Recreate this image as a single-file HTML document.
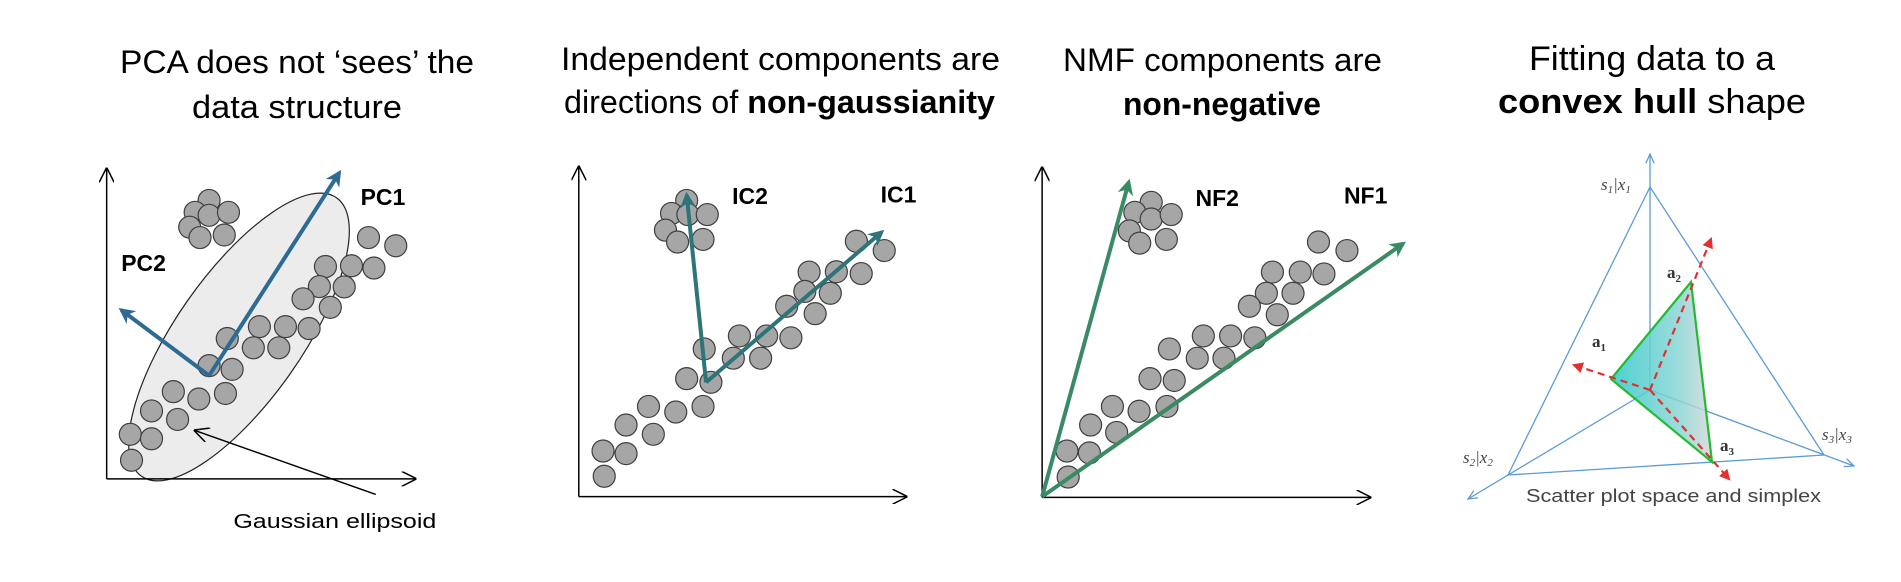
<!DOCTYPE html>
<html><head><meta charset="utf-8"><style>
html,body{margin:0;padding:0;background:#fff;}
svg{display:block;font-family:"Liberation Sans",sans-serif;}
</style></head><body>
<svg id="fig" width="1901" height="582" viewBox="0 0 1901 582" xmlns="http://www.w3.org/2000/svg">
<defs>
<marker id="mBlue" viewBox="0 0 10 10" refX="8" refY="5" markerWidth="4" markerHeight="4" orient="auto"><path d="M0,0 L10,5 L0,10 L3,5 z" fill="#2d6a94"/></marker>
<marker id="mTeal" viewBox="0 0 10 10" refX="8" refY="5" markerWidth="4" markerHeight="4" orient="auto"><path d="M0,0 L10,5 L0,10 L3,5 z" fill="#2e7479"/></marker>
<marker id="mGreen" viewBox="0 0 10 10" refX="8" refY="5" markerWidth="4" markerHeight="4" orient="auto"><path d="M0,0 L10,5 L0,10 L3,5 z" fill="#3a8a63"/></marker>
<marker id="mBlack" viewBox="0 0 10 10" refX="9" refY="5" markerWidth="10" markerHeight="10" orient="auto"><path d="M0,0 L10,5 L0,10" fill="none" stroke="#000" stroke-width="1"/></marker>
<marker id="mRed" viewBox="0 0 10 10" refX="8" refY="5" markerWidth="5" markerHeight="5" orient="auto"><path d="M0,0 L10,5 L0,10 z" fill="#e03030"/></marker>
<marker id="mSky" viewBox="0 0 10 10" refX="9" refY="5" markerWidth="8" markerHeight="8" orient="auto"><path d="M0,1 L9,5 L0,9" fill="none" stroke="#5b9bd5" stroke-width="1.2"/></marker>
<linearGradient id="hullGrad" x1="0" y1="0" x2="1" y2="0"><stop offset="0" stop-color="#2ec8c8"/><stop offset="0.7" stop-color="#8fd6d6"/><stop offset="1" stop-color="#d8d8d8"/></linearGradient>
</defs>

<text x="297" y="73" font-size="32" text-anchor="middle" textLength="354" lengthAdjust="spacingAndGlyphs">PCA does not ‘sees’  the</text>
<text x="297" y="118" font-size="32" text-anchor="middle" textLength="210" lengthAdjust="spacingAndGlyphs">data structure</text>
<text x="561" y="70" font-size="32" textLength="439" lengthAdjust="spacingAndGlyphs">Independent components are</text>
<text x="564" y="113" font-size="32" textLength="431" lengthAdjust="spacingAndGlyphs">directions of <tspan font-weight="bold">non-gaussianity</tspan></text>
<text x="1063" y="71" font-size="32" textLength="319" lengthAdjust="spacingAndGlyphs">NMF components are</text>
<text x="1123" y="115" font-size="32" font-weight="bold" textLength="198" lengthAdjust="spacingAndGlyphs">non-negative</text>
<text x="1529" y="70" font-size="34" textLength="246" lengthAdjust="spacingAndGlyphs">Fitting data to a</text>
<text x="1498" y="113" font-size="34" textLength="308" lengthAdjust="spacingAndGlyphs"><tspan font-weight="bold">convex hull</tspan> shape</text>

<g id="p1"></g>
<g id="p2"></g>
<g id="p3"></g>
<g id="p4"></g>
</svg>
<script>
const pcaX=[345,322,345,377,313,330,370,608,653,537,580,617,527,568,500,545,428,471,510,375,418,460,345,383,286,328,372,250,293,215,250,217];
const pcaY=[540,572,580,572,612,640,633,640,662,718,716,722,772,773,805,828,880,880,885,912,937,937,985,995,1055,1075,1060,1107,1130,1170,1182,1240];
const icaX=[1133,1108,1135,1167,1098,1118,1160,1413,1459,1335,1380,1421,1328,1370,1298,1345,1220,1265,1305,1162,1210,1255,1133,1173,1070,1115,1160,1033,1078,995,1033,997];
const icaY=[540,575,578,578,620,652,645,650,675,733,732,737,785,790,825,845,905,905,910,940,965,965,1020,1030,1095,1110,1095,1145,1170,1215,1222,1283];
const nmfX=[332,305,332,365,296,313,357,608,655,532,578,617,522,566,494,540,418,463,503,362,408,452,330,370,268,312,358,232,275,193,230,195];
const nmfY=[545,572,590,578,622,655,645,652,675,733,733,738,790,790,825,848,905,905,910,940,965,965,1020,1025,1095,1108,1095,1145,1165,1215,1220,1285];

const NS='http://www.w3.org/2000/svg';
function sx(off){return v=>off+v/1.65;}
function sy(v){return v/2.694;}
function mk(parent,tag,attrs){const e=document.createElementNS(NS,tag);for(const k in attrs)e.setAttribute(k,attrs[k]);parent.appendChild(e);return e;}

function axes(g,X,x0,yTop,yBot,xEnd){
  const ya=mk(g,'line',{x1:X(x0),y1:sy(yBot),x2:X(x0),y2:sy(yTop),stroke:'#000','stroke-width':1.5,'marker-end':'url(#mBlack)'});
  
  
  const xa=mk(g,'line',{x1:X(x0),y1:sy(yBot),x2:X(xEnd),y2:sy(yBot),stroke:'#000','stroke-width':1.5,'marker-end':'url(#mBlack)'});
  
  
}
function points(g,X,xs,ys){
  for(let i=0;i<xs.length;i++){
    const c=mk(g,'circle',{cx:X(xs[i]),cy:sy(ys[i]),r:11,fill:'#a6a6a6',stroke:'#3f3f3f','stroke-width':1.2});
    
    
  }
}
function arrow(g,X,ox,oy,tx,ty,color,marker,name){
  const l=mk(g,'line',{x1:X(ox),y1:sy(oy),x2:X(tx),y2:sy(ty),stroke:color,'stroke-width':4,'marker-end':'url(#'+marker+')'});
  
  
}
function label(g,x,y,txt,name,size,bold){
  const t=mk(g,'text',{x:x,y:y,'font-size':size,'font-weight':bold?'bold':'normal'});
  t.textContent=txt;
  
  
  return t;
}

(function(){
  const g=document.getElementById('p1');const X=sx(0);
  const el=mk(g,'ellipse',{cx:239,cy:337,rx:170,ry:63,fill:'#ececec',stroke:'#222','stroke-width':1.2,transform:'rotate(-55 239 337)'});
  
  
  axes(g,X,176,455,1290,685);
  points(g,X,pcaX,pcaY);
  arrow(g,X,345,1012,560,465,'#2d6a94','mBlue','pc1-arrow');
  arrow(g,X,345,1012,200,835,'#2d6a94','mBlue','pc2-arrow');
  label(g,X(595),sy(552),'PC1','pc1-label',23,true);
  label(g,X(200),sy(730),'PC2','pc2-label',23,true);
  const a=mk(g,'line',{x1:X(620),y1:sy(1332),x2:X(322),y2:sy(1160),stroke:'#000','stroke-width':1.5,'marker-end':'url(#mBlack)'});
  
  
  const t=label(g,X(385),sy(1422),'Gaussian ellipsoid','ellipsoid-label',20,false);
  t.setAttribute('textLength',203);t.setAttribute('lengthAdjust','spacingAndGlyphs');
})();

(function(){
  const g=document.getElementById('p2');const X=sx(0);
  axes(g,X,955,450,1338,1495);
  points(g,X,icaX,icaY);
  arrow(g,X,1165,1030,1455,625,'#2e7479','mTeal','ic1-arrow');
  arrow(g,X,1165,1030,1133,525,'#2e7479','mTeal','ic2-arrow');
  label(g,X(1208),sy(550),'IC2','ic2-label',23,true);
  label(g,X(1453),sy(545),'IC1','ic1-label',23,true);
})();

(function(){
  const g=document.getElementById('p3');const X=sx(950);
  axes(g,X,152,452,1340,693);
  points(g,X,nmfX,nmfY);
  arrow(g,X,152,1338,295,490,'#3a8a63','mGreen','nf2-arrow');
  arrow(g,X,152,1338,748,656,'#3a8a63','mGreen','nf1-arrow');
  label(g,X(405),sy(555),'NF2','nf2-label',23,true);
  label(g,X(650),sy(548),'NF1','nf1-label',23,true);
})();

(function(){
  const g=document.getElementById('p4');
  const T=[1650,187],L=[1508,475],R=[1824,455],C=[1650,390];
  const blue='#5b9bd5';
  function ln(p,q,name,extra){const l=mk(g,'line',Object.assign({x1:p[0],y1:p[1],x2:q[0],y2:q[1],stroke:blue,'stroke-width':1.3},extra||{}));}
  ln(T,L,'simplex-edge');ln(T,R,'simplex-edge');ln(L,R,'simplex-edge');
  ln(C,[1650,154],'s1-axis',{'marker-end':'url(#mSky)'});
  ln(C,[1468,499],'s2-axis',{'marker-end':'url(#mSky)'});
  ln(C,[1854,466],'s3-axis',{'marker-end':'url(#mSky)'});
  const A2=[1691,282],A1=[1611,379],A3=[1712,462];
  const tri=mk(g,'polygon',{points:[A2,A1,A3].map(p=>p.join(',')).join(' '),fill:'url(#hullGrad)','fill-opacity':0.85,stroke:'#22bb33','stroke-width':2.2});
  
  
  function rd(q,name){const l=mk(g,'line',{x1:C[0],y1:C[1],x2:q[0],y2:q[1],stroke:'#e03030','stroke-width':2.2,'stroke-dasharray':'7,5','marker-end':'url(#mRed)'});}
  rd([1711,239],'a2-direction');rd([1574,365],'a1-direction');rd([1729,479],'a3-direction');
  function it(x,y,main,name){const t=mk(g,'text',{x:x,y:y,'font-size':17,'font-family':'Liberation Serif, serif','font-style':'italic',fill:'#444'});t.innerHTML=main;}
  it(1601,190,'s<tspan font-size="11" dy="3">1</tspan><tspan dy="-3">|x</tspan><tspan font-size="11" dy="3">1</tspan>','s1-x1-label');
  it(1463,463,'s<tspan font-size="11" dy="3">2</tspan><tspan dy="-3">|x</tspan><tspan font-size="11" dy="3">2</tspan>','s2-x2-label');
  it(1822,440,'s<tspan font-size="11" dy="3">3</tspan><tspan dy="-3">|x</tspan><tspan font-size="11" dy="3">3</tspan>','s3-x3-label');
  function bl(x,y,n,name){const t=mk(g,'text',{x:x,y:y,'font-size':17,'font-family':'Liberation Serif, serif','font-weight':'bold',fill:'#333'});t.innerHTML='a<tspan font-size="11" dy="4">'+n+'</tspan>';}
  bl(1667,278,'2','a2-label');bl(1592,347,'1','a1-label');bl(1720,451,'3','a3-label');
  const cap=mk(g,'text',{x:1526,y:502,'font-size':18,fill:'#444',textLength:295,lengthAdjust:'spacingAndGlyphs'});
  cap.textContent='Scatter plot space and simplex';
  
  
})();
</script>
</body></html>
